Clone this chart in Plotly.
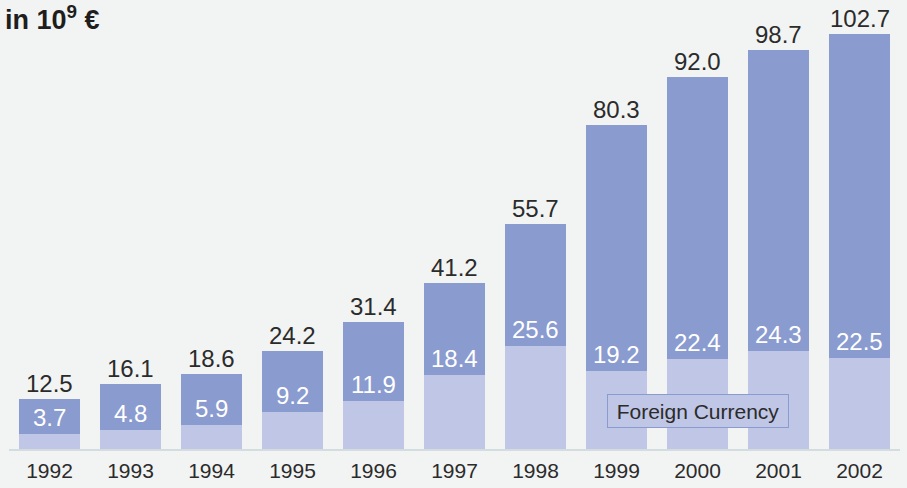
import plotly.graph_objects as go

# Annual volumes, in billions of euros
years = ["1992", "1993", "1994", "1995", "1996", "1997", "1998", "1999", "2000", "2001", "2002"]
totals = [12.5, 16.1, 18.6, 24.2, 31.4, 41.2, 55.7, 80.3, 92.0, 98.7, 102.7]
foreign_currency = [3.7, 4.8, 5.9, 9.2, 11.9, 18.4, 25.6, 19.2, 22.4, 24.3, 22.5]
domestic = [round(t - f, 1) for t, f in zip(totals, foreign_currency)]

BG = "#f2f4f3"
DARK = "#8a9bcf"
LIGHT = "#c0c6e5"
TEXT = "#2b2b2b"
FONT = "Liberation Sans, Arial, sans-serif"

pos = list(range(len(years)))

fig = go.Figure()
fig.add_trace(go.Bar(x=pos, y=foreign_currency, marker=dict(color=LIGHT, line=dict(width=0)),
                     name="Foreign Currency", hoverinfo="skip"))
fig.add_trace(go.Bar(x=pos, y=domestic, marker=dict(color=DARK, line=dict(width=0)),
                     name="Other", hoverinfo="skip"))

annotations = []
for i, tot, fc in zip(pos, totals, foreign_currency):
    annotations.append(dict(x=i, y=tot, xref="x", yref="y", text=f"{tot:.1f}",
                            showarrow=False, yanchor="bottom", yshift=0,
                            font=dict(family=FONT, size=24, color=TEXT)))
    annotations.append(dict(x=i, y=fc, xref="x", yref="y", text=f"{fc:.1f}",
                            showarrow=False, yanchor="bottom", yshift=1,
                            font=dict(family=FONT, size=24, color="white")))

# unit label
annotations.append(dict(x=0, y=1, xref="paper", yref="paper", xanchor="left", yanchor="top",
                        xshift=-6, yshift=11,
                        text="<b>in 10<sup>9</sup> €</b>", showarrow=False,
                        font=dict(family=FONT, size=27, color="#1e1e1e")))

# series key, centred under the 2000 bar
annotations.append(dict(x=years.index("2000"), y=9.5, xref="x", yref="y", text="Foreign Currency",
                        showarrow=False, xanchor="center", yanchor="middle",
                        bgcolor=LIGHT, bordercolor=DARK, borderwidth=1, borderpad=4,
                        width=172, height=24,
                        font=dict(family=FONT, size=21, color=TEXT)))

fig.update_layout(
    barmode="stack",
    bargap=0.25,
    width=907, height=488,
    margin=dict(l=9, r=7, t=10, b=39),
    paper_bgcolor=BG, plot_bgcolor=BG,
    showlegend=False,
    annotations=annotations,
    xaxis=dict(range=[-0.5, len(years) - 0.5], tickmode="array", tickvals=pos, ticktext=years,
               showgrid=False, zeroline=False, showline=True, linecolor="#d3dde0", linewidth=2,
               ticks="", ticklabelstandoff=2,
               tickfont=dict(family=FONT, size=21, color=TEXT)),
    yaxis=dict(range=[0, 108.7], visible=False, showgrid=False, zeroline=False),
)

fig.write_html("out.html")
